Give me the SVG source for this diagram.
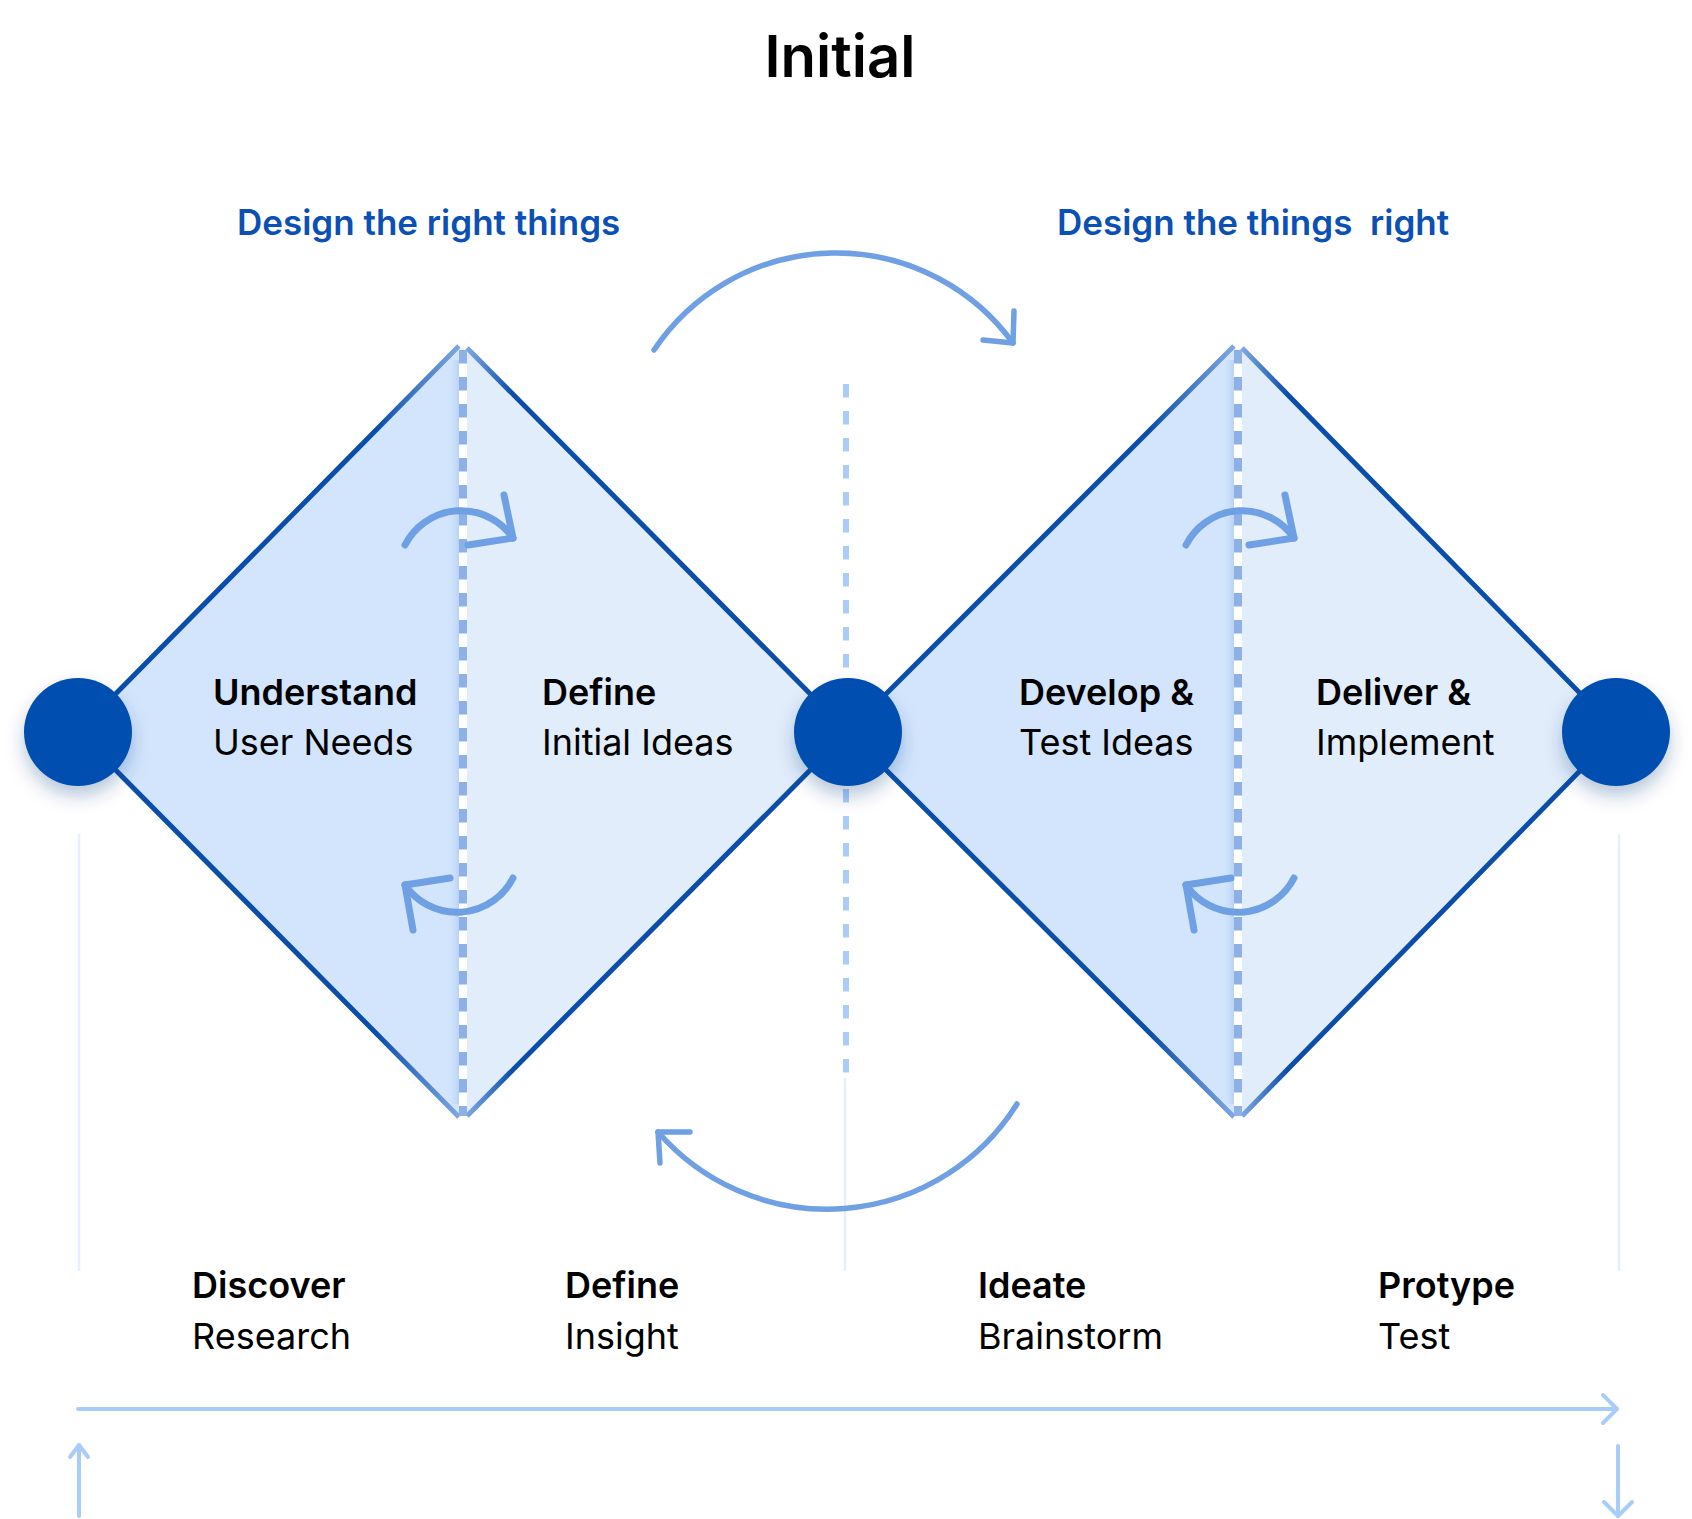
<svg xmlns="http://www.w3.org/2000/svg" width="1692" height="1519" viewBox="0 0 1692 1519">
<style>
.t{font-family:Inter,"Noto Sans","Liberation Sans",sans-serif;fill:#000}
.b{font-weight:600}
.r{font-weight:400}
.lbl{font-size:36px}
.hd{font-family:Inter,"Noto Sans","Liberation Sans",sans-serif;font-size:35px;font-weight:600;fill:#0B50B5;white-space:pre}
.edgeL{stroke:url(#gL);stroke-width:5;stroke-linejoin:round}
.edgeR{stroke:url(#gR);stroke-width:5;stroke-linejoin:round}
.fillL{fill:#D2E5FD}
.fillR{fill:#E1EDFB}
.mid{stroke:#8DB1E4;stroke-width:8;stroke-dasharray:13.5 13.5;fill:none}
.dot{fill:#0650B0;filter:url(#sh)}
.loop{fill:none;stroke:#6EA0E3;stroke-width:7;stroke-linecap:round;stroke-linejoin:round}
.big{fill:none;stroke:#6EA0E3;stroke-width:5.5;stroke-linecap:round;stroke-linejoin:round}
.axis{fill:none;stroke:#A9CDF9;stroke-width:4;stroke-linecap:round;stroke-linejoin:round}
.faint{stroke:#E6F0FD;stroke-width:2.5;fill:none}
.center{stroke:#A9CDF8;stroke-width:6;stroke-dasharray:13.5 13.5;fill:none}
</style>
<defs>
<linearGradient id="gL" gradientUnits="userSpaceOnUse" x1="78" y1="0" x2="460" y2="0">
<stop offset="0" stop-color="#0A4DAA"/><stop offset="0.78" stop-color="#0A4DAA"/><stop offset="1" stop-color="#7FA8E2"/>
</linearGradient>
<linearGradient id="gR" gradientUnits="userSpaceOnUse" x1="467" y1="0" x2="848" y2="0">
<stop offset="0" stop-color="#7FA8E2"/><stop offset="0.12" stop-color="#0A4DAA"/><stop offset="1" stop-color="#0A4DAA"/>
</linearGradient>
<linearGradient id="gL2" gradientUnits="userSpaceOnUse" x1="848" y1="0" x2="1234" y2="0">
<stop offset="0" stop-color="#0A4DAA"/><stop offset="0.78" stop-color="#0A4DAA"/><stop offset="1" stop-color="#7FA8E2"/>
</linearGradient>
<linearGradient id="gR2" gradientUnits="userSpaceOnUse" x1="1242" y1="0" x2="1618" y2="0">
<stop offset="0" stop-color="#7FA8E2"/><stop offset="0.12" stop-color="#0A4DAA"/><stop offset="1" stop-color="#0A4DAA"/>
</linearGradient>
<linearGradient id="shadeL" x1="0" y1="0" x2="1" y2="0">
<stop offset="0" stop-color="#D2E5FD" stop-opacity="0"/><stop offset="1" stop-color="#B9D1F3"/>
</linearGradient>
<filter id="sh" x="-50%" y="-50%" width="200%" height="220%">
<feDropShadow dx="0" dy="10" stdDeviation="9" flood-color="#0A3A80" flood-opacity="0.28"/>
</filter>
</defs>
<rect width="1692" height="1519" fill="#FFFFFF"/>

<text class="t b" x="840" y="77" font-size="58" text-anchor="middle">Initial</text>
<text class="hd" x="237" y="235">Design the right things</text>
<text class="hd" x="1057" y="235">Design the things  right</text>

<g id="guides">
<line class="faint" x1="79" y1="834" x2="79" y2="1271"/>
<line class="faint" x1="1619" y1="834" x2="1619" y2="1271"/>
<line class="faint" x1="845" y1="1078" x2="845" y2="1271"/>
<line class="center" x1="846" y1="384" x2="846" y2="1077"/>
</g>

<g id="node-understand">
<polygon class="fillL" points="78,732 459,350 459,1114"/>
<rect x="447" y="360" width="12" height="744" fill="url(#shadeL)"/>
<polyline class="edgeL" fill="none" points="459,346 78,732 459,1117"/>
<text class="t b lbl" x="213" y="705">Understand</text>
<text class="t r lbl" x="213" y="755">User Needs</text>
</g>
<g id="node-define">
<polygon class="fillR" points="467,350 848,732 467,1114"/>
<polyline class="edgeR" fill="none" points="467,348 848,732 467,1116"/>
<text class="t b lbl" x="542" y="705">Define</text>
<text class="t r lbl" x="542" y="755">Initial Ideas</text>
</g>
<line class="mid" x1="463" y1="350" x2="463" y2="1116"/>

<g id="node-develop">
<polygon class="fillL" points="848,732 1234,350 1234,1114"/>
<rect x="1222" y="360" width="12" height="744" fill="url(#shadeL)"/>
<polyline fill="none" stroke="url(#gL2)" stroke-width="5" points="1234,346 848,732 1234,1117"/>
<text class="t b lbl" x="1019" y="705">Develop &amp;</text>
<text class="t r lbl" x="1019" y="755">Test Ideas</text>
</g>
<g id="node-deliver">
<polygon class="fillR" points="1242,350 1618,732 1242,1114"/>
<polyline fill="none" stroke="url(#gR2)" stroke-width="5" points="1242,348 1618,732 1242,1116"/>
<text class="t b lbl" x="1316" y="705">Deliver &amp;</text>
<text class="t r lbl" x="1316" y="755">Implement</text>
</g>
<line class="mid" x1="1238" y1="350" x2="1238" y2="1116"/>

<g id="node-start"><circle class="dot" cx="78" cy="732" r="54"/></g>
<g id="node-mid"><circle class="dot" cx="848" cy="732" r="54"/></g>
<g id="node-end"><circle class="dot" cx="1616" cy="732" r="54"/></g>

<g id="connectors">
<path class="loop" d="M405,545 A63,63 0 0 1 513,538"/>
<polyline class="loop" points="504,495 513,538 468,545"/>
<path class="loop" d="M513,878 A63,63 0 0 1 405,885"/>
<polyline class="loop" points="450,878 405,885 413,930"/>
<path class="loop" d="M1186,545 A63,63 0 0 1 1294,538"/>
<polyline class="loop" points="1285,495 1294,538 1249,545"/>
<path class="loop" d="M1294,878 A63,63 0 0 1 1186,885"/>
<polyline class="loop" points="1231,878 1186,885 1194,930"/>

<path class="big" d="M654,350 A219,219 0 0 1 1013,343"/>
<polyline class="big" points="1014,311 1013,343 983,340"/>
<path class="big" d="M1017,1104 A224,224 0 0 1 658,1132"/>
<polyline class="big" points="690,1132 658,1132 660,1163"/>

<line class="axis" x1="78" y1="1409" x2="1617" y2="1409"/>
<polyline class="axis" points="1603,1395 1617,1409 1603,1423"/>
<line class="axis" x1="79" y1="1516" x2="79" y2="1445"/>
<polyline class="axis" points="70,1457 79,1445 88,1457"/>
<line class="axis" x1="1618" y1="1446" x2="1618" y2="1516"/>
<polyline class="axis" points="1604,1502 1618,1516 1632,1502"/>
</g>

<g id="labels">
<text class="t b lbl" x="192" y="1298">Discover</text>
<text class="t r lbl" x="192" y="1349">Research</text>
<text class="t b lbl" x="565" y="1298">Define</text>
<text class="t r lbl" x="565" y="1349">Insight</text>
<text class="t b lbl" x="978" y="1298">Ideate</text>
<text class="t r lbl" x="978" y="1349">Brainstorm</text>
<text class="t b lbl" x="1378" y="1298">Protype</text>
<text class="t r lbl" x="1378" y="1349">Test</text>
</g>
</svg>
